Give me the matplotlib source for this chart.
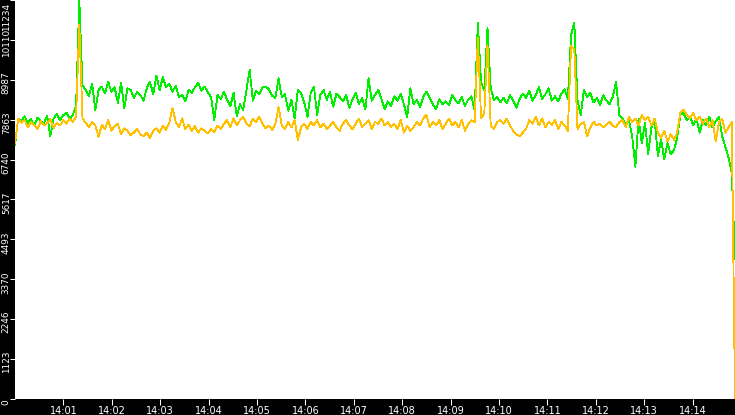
import numpy as np
import matplotlib
matplotlib.use("Agg")
import matplotlib.pyplot as plt
from matplotlib.transforms import ScaledTranslation, blended_transform_factory

# ---- data ----
green = [
    7150, 7900, 7840, 7960, 7780, 7880, 7700, 7920, 7820, 7760,
    7980, 7400, 7900, 8030, 7850, 7990, 8060, 7880, 8000, 8250,
    11234, 8830, 8700, 8520, 8880, 8140, 8700, 8800, 8600, 8930,
    8650, 8780, 8330, 8900, 8190, 8750, 8700, 8470, 8650, 8560,
    8400, 8750, 8930, 8580, 9100, 8700, 9060, 8780, 8880, 8650,
    8820, 8500, 8560, 8380, 8700, 8620, 8780, 8900, 8680, 8800,
    8640, 8500, 7860, 8560, 8450, 8650, 8420, 8250, 8620, 7960,
    8300, 8130, 8700, 9260, 8400, 8680, 8580, 8770, 8800, 8720,
    8540, 8480, 9030, 8500, 8580, 8120, 8420, 7900, 8700, 8600,
    8350, 7950, 8620, 8800, 8000, 8560, 8700, 8420, 8650, 8230,
    8600, 8500, 8380, 8560, 8200, 8440, 8620, 8300, 8480, 8150,
    9030, 8400, 8560, 8700, 8450, 8150, 8380, 8250, 8520, 8400,
    8600, 8300, 7940, 8750, 8300, 8420, 8220, 8500, 8650, 8480,
    8300, 8150, 8440, 8300, 8380, 8280, 8550, 8420, 8320, 8500,
    8250, 8430, 8520, 8130, 10600, 8900, 8700, 10450, 8750, 8420,
    8500, 8350, 8480, 8320, 8550, 8400, 8200, 8450, 8600, 8480,
    8680, 8400, 8550, 8780, 8450, 8580, 8750, 8400, 8520, 8380,
    8600, 8720, 8450, 10250, 10600, 8400, 8000, 8700, 8500, 8620,
    8350, 8480, 8280, 8550, 8400, 8300, 8520, 8930, 8000, 7900,
    7700, 7850, 7400, 6540, 7900, 7200, 7780, 6900, 7650, 7850,
    6850, 7300, 6750, 7200, 6900, 7000, 7350, 8000, 8050, 7850,
    7950, 7700, 7900, 7500, 7850, 7700, 7950, 7650, 7820, 7950,
    7400, 7100, 6800, 6350, 3940,
]

orange = [
    7200, 7900, 7780, 7850, 7650, 7800, 7720, 7600, 7820, 7700,
    7760, 7880, 7620, 7780, 7700, 7850, 7750, 7900, 7800, 7950,
    10530, 7900, 7780, 7650, 7800, 7700, 7380, 7720, 7600, 7850,
    7550, 7680, 7750, 7450, 7620, 7550, 7420, 7500, 7600, 7450,
    7400, 7500, 7350, 7550, 7620, 7500, 7700, 7580, 7780, 8200,
    7800, 7650, 7900, 7600, 7720, 7550, 7680, 7500, 7620, 7550,
    7480, 7600, 7520, 7700, 7600, 7750, 7850, 7650, 7900, 7700,
    7850, 7950, 7750, 7680, 7900, 7800, 7950, 7750, 7620, 7700,
    7580, 7750, 8220, 7700, 7600, 7800, 7650, 7850, 7300, 7650,
    7750, 7600, 7800, 7700, 7850, 7650, 7750, 7600, 7700, 7800,
    7650, 7550, 7750, 7850, 7700, 7600, 7750, 7900, 7650, 7750,
    7850, 7600, 7800, 7750, 7900, 7700, 7800, 7650, 7750, 7600,
    7850, 7500, 7700, 7550, 7650, 7800, 7700, 7900, 8000, 7650,
    7800, 7700, 7850, 7600, 7750, 7900, 7700, 7800, 7650, 7850,
    7550, 7750, 7850, 7800, 10170, 7900, 8050, 9970, 7700, 7600,
    7800, 7850, 7750, 7900, 7700, 7550, 7450, 7400, 7500, 7600,
    7850, 7750, 7950, 7700, 7900, 7650, 7800, 7720, 7850, 7600,
    7800, 7700, 7550, 9950, 9850, 7600, 7750, 7800, 7400, 7650,
    7800, 7700, 7750, 7650, 7720, 7800, 7700, 7650, 7800, 7850,
    7650, 7950, 7800, 7900, 7700, 8000, 7850, 7950, 7700, 7900,
    7500, 7350, 7550, 7250, 7450, 7300, 7500, 8050, 8150, 8000,
    7900, 8050, 7850, 7950, 7750, 7900, 7650, 7850, 7250, 7800,
    7900, 7500, 7650, 7800, 0,
]

x_tick_seconds = [60, 120, 180, 240, 300, 360, 420, 480, 540, 600, 660, 720, 780, 840]
x_tick_labels = ["14:01", "14:02", "14:03", "14:04", "14:05", "14:06", "14:07",
                 "14:08", "14:09", "14:10", "14:11", "14:12", "14:13", "14:14"]
y_tick_labels = ["0", "1123", "2246", "3370", "4493", "5617", "6740",
                 "7863", "8987", "10110", "11234"]
y_max = 11234
t_end = 892.5

# sample times in seconds after 14:00:00
t = np.linspace(0, t_end, len(green))

W, H = 735, 415
fig = plt.figure(figsize=(W / 100, H / 100), dpi=100, facecolor="black")
ax = fig.add_axes([15 / W, 16 / H, 720 / W, 399 / H])
ax.set_facecolor("white")

ax.plot(t, green, color="#00ee00", lw=0.6, antialiased=False)
ax.plot(t, orange, color="#ffc000", lw=0.6, antialiased=False)

ax.set_xlim(0, t_end)
ax.set_ylim(0, y_max)

for s in ax.spines.values():
    s.set_visible(False)

ax.set_xticks(x_tick_seconds)
ax.set_xticklabels(x_tick_labels, fontsize=7, color="white", family="DejaVu Sans")
yt = [i * y_max / 10 for i in range(len(y_tick_labels))]
ax.set_yticks(yt)
ax.tick_params(axis="x", colors="white", length=4, width=0.75, direction="out", pad=1)
ax.tick_params(axis="y", colors="white", length=3.5, width=0.75, direction="out",
               labelleft=False)

# y tick labels drawn as rotated text with baseline close to the tick marks
tr = blended_transform_factory(fig.transFigure, ax.transData)
shift = ScaledTranslation(0, -3 / 100, fig.dpi_scale_trans)
for i, (yv, lab) in enumerate(zip(yt, y_tick_labels)):
    last = i == len(yt) - 1
    ax.text(8.8 / W, yv, lab, transform=tr + shift, rotation=90,
            rotation_mode="anchor", ha="right" if last else "center",
            va="baseline", fontsize=6.4, color="white", family="DejaVu Sans",
            clip_on=False)

fig.savefig("out.png", dpi=100, facecolor="black")
